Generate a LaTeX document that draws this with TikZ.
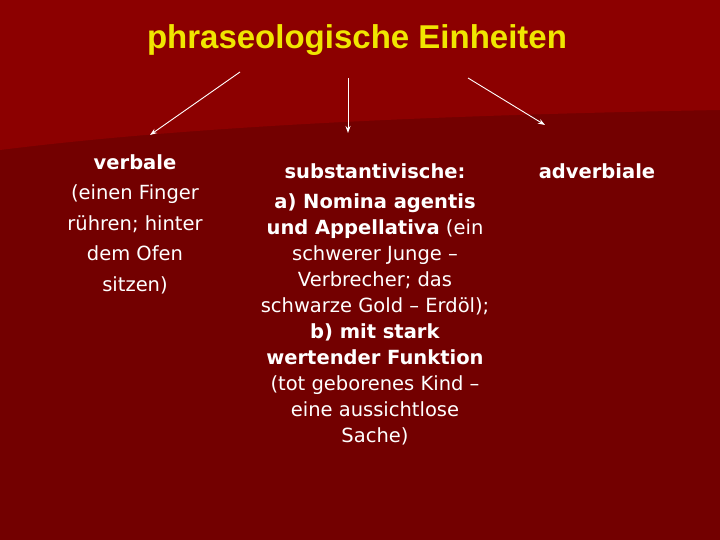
\documentclass[tikz,border=0pt]{standalone}
\usepackage{fontspec}
\usetikzlibrary{arrows.meta}
\setmainfont{DejaVu Sans}
\newfontfamily\titlefont{Liberation Sans}
\begin{document}
\begin{tikzpicture}[x=1pt,y=1pt,
  body/.style={text=white,align=center,font=\fontsize{19.5}{26}\selectfont,inner sep=0},
  arr/.style={draw=white,line width=0.9pt,-{Stealth[length=7pt,width=5pt]}}]
\useasboundingbox (0,0) rectangle (720,540);
\fill[fill=red!45!black] (0,0) rectangle (720,540);
\fill[fill=red!55!black] (0,540) -- (0,390) .. controls (200,415) and (450,425) .. (720,430) -- (720,540) -- cycle;
\node[text={rgb,255:red,240;green,230;blue,0},font=\titlefont\bfseries\fontsize{33}{36}\selectfont] (t) at (357,500) {phraseologische Einheiten};
\node[body,anchor=north,font=\fontsize{19.5}{30.5}\selectfont] (v) at (135,386) {\textbf{verbale}\\(einen Finger\\rühren; hinter\\dem Ofen\\sitzen)};
\node[body,anchor=north] (s) at (375,377) {\textbf{substantivische:}\\[4pt]\textbf{a) Nomina agentis}\\\textbf{und Appellativa} (ein\\schwerer Junge --\\Verbrecher; das\\schwarze Gold -- Erdöl);\\\textbf{b) mit stark}\\\textbf{wertender Funktion}\\(tot geborenes Kind --\\eine aussichtlose\\Sache)};
\node[body,anchor=north] (a) at (597,377) {\textbf{adverbiale}};
\coordinate (a1) at (240,468); \coordinate (b1) at (150,405);
\coordinate (a2) at (348,462); \coordinate (b2) at (348,407);
\coordinate (a3) at (468,462); \coordinate (b3) at (545,415);
\draw[arr] (a1) -- (b1);
\draw[arr] (a2) -- (b2);
\draw[arr] (a3) -- (b3);
\end{tikzpicture}
\end{document}
